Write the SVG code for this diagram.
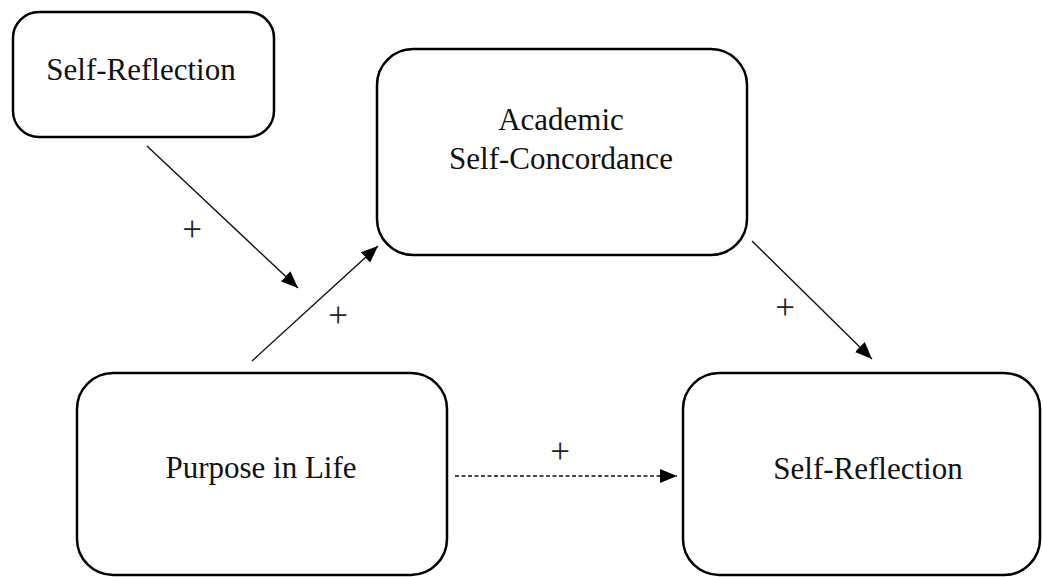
<svg xmlns="http://www.w3.org/2000/svg" width="1043" height="577" viewBox="0 0 1043 577">
<style>
.box{fill:#fff;stroke:#000;stroke-width:2.5}
.lbl{font-family:'Liberation Serif','Times New Roman',serif;font-size:31px;fill:#111;text-anchor:middle}
.plus{font-family:'Liberation Serif','Times New Roman',serif;font-size:35px;fill:#222;text-anchor:middle}
.edge{stroke:#111;stroke-width:1.4;fill:none}
</style>
<defs>
<marker id="ah" viewBox="0 0 17 14" refX="17" refY="7" markerWidth="17" markerHeight="14" markerUnits="userSpaceOnUse" orient="auto">
<path d="M0,0 L17,7 L0,14 Z" fill="#000"/>
</marker>
</defs>
<rect width="1043" height="577" fill="#fff"/>
<g id="node-self-reflection-top">
<rect class="box" x="13" y="12" width="261" height="125" rx="26"/>
<text class="lbl" font-family="Liberation Serif" x="141" y="80">Self-Reflection</text>
</g>
<g id="node-academic">
<rect class="box" x="377" y="49" width="370" height="206" rx="36"/>
<text class="lbl" font-family="Liberation Serif" x="561" y="130">Academic</text>
<text class="lbl" font-family="Liberation Serif" x="561" y="169">Self-Concordance</text>
</g>
<g id="node-purpose">
<rect class="box" x="77" y="373" width="370" height="202" rx="36"/>
<text class="lbl" font-family="Liberation Serif" x="261" y="478">Purpose in Life</text>
</g>
<g id="node-self-reflection-right">
<rect class="box" x="683" y="373" width="357" height="202" rx="36"/>
<text class="lbl" font-family="Liberation Serif" x="868" y="479">Self-Reflection</text>
</g>
<g id="connectors">
<line class="edge" x1="147" y1="146" x2="298" y2="288" marker-end="url(#ah)"/>
<line class="edge" x1="252" y1="361" x2="378" y2="246" marker-end="url(#ah)"/>
<line class="edge" x1="752" y1="241" x2="872" y2="359" marker-end="url(#ah)"/>
<line class="edge" x1="455" y1="476" x2="677" y2="476" stroke-dasharray="4,2.5" marker-end="url(#ah)"/>
<text class="plus" font-family="Liberation Serif" x="192" y="241">+</text>
<text class="plus" font-family="Liberation Serif" x="338" y="327">+</text>
<text class="plus" font-family="Liberation Serif" x="785" y="319">+</text>
<text class="plus" font-family="Liberation Serif" x="560" y="463">+</text>
</g>
</svg>
